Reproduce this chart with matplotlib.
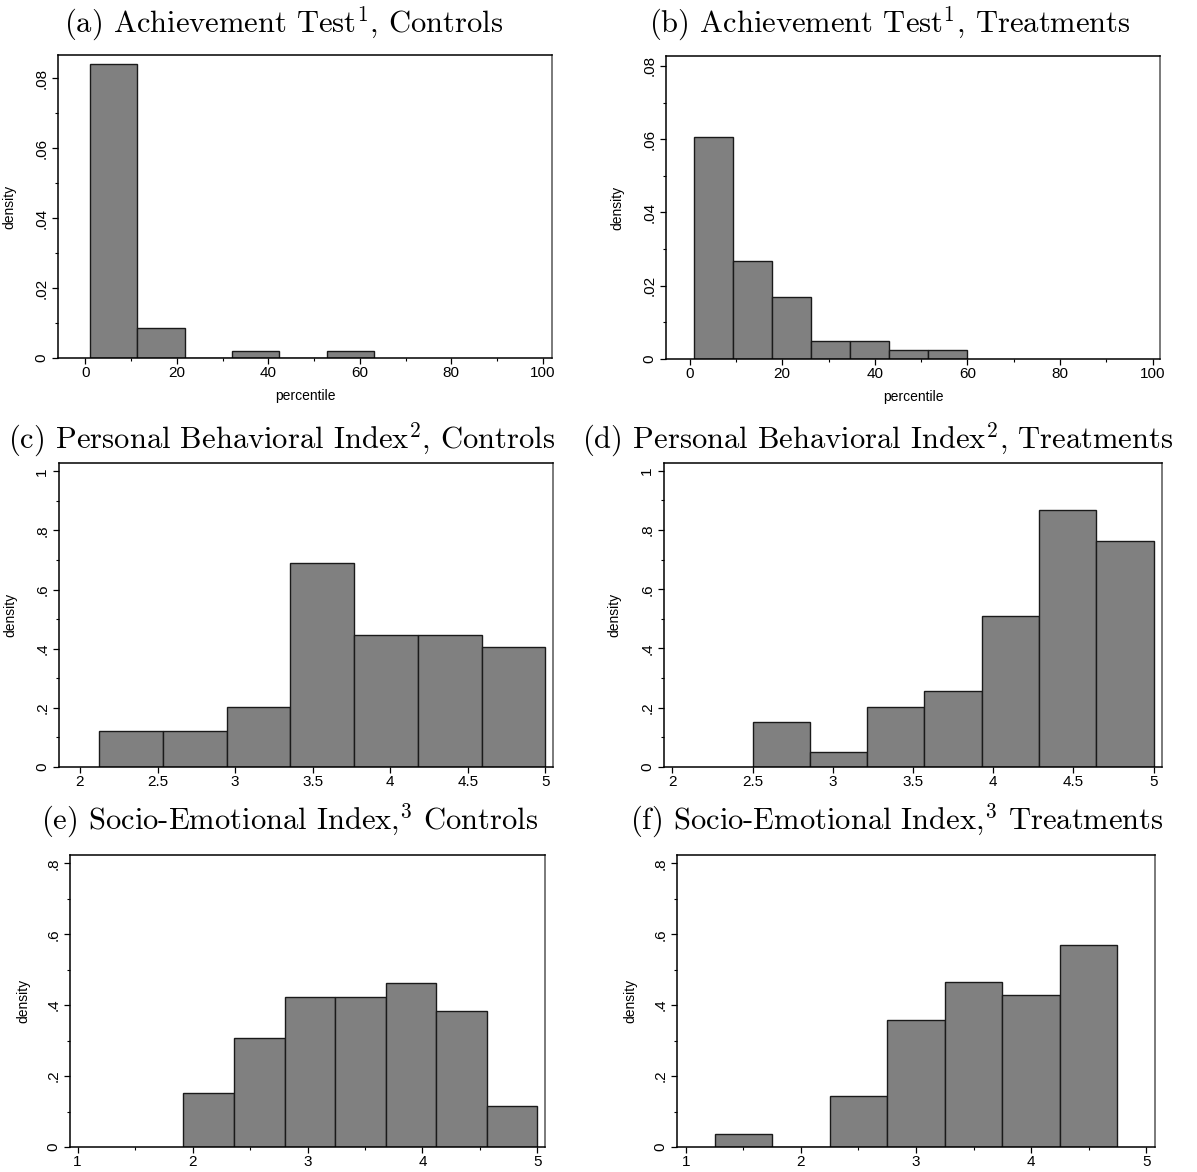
import numpy as np
import matplotlib
matplotlib.use("Agg")
import matplotlib.pyplot as plt

# ---------------- data ----------------
a_edges = [1.0, 11.35, 21.7, 32.05, 42.4, 52.75, 63.1]
a_density = [0.0842, 0.0085, 0.0, 0.0021, 0.0, 0.0021]

b_edges = [1.0, 9.43, 17.86, 26.29, 34.71, 43.14, 51.57, 60.0]
b_density = [0.0605, 0.0267, 0.0169, 0.0048, 0.0048, 0.0024, 0.0024]

c_edges = [2.125, 2.536, 2.946, 3.357, 3.768, 4.179, 4.589, 5.0]
c_density = [0.122, 0.122, 0.202, 0.689, 0.445, 0.445, 0.405]

d_edges = [2.5, 2.857, 3.214, 3.571, 3.929, 4.286, 4.643, 5.0]
d_density = [0.152, 0.050, 0.203, 0.255, 0.510, 0.866, 0.764]

e_edges = [1.92, 2.36, 2.80, 3.24, 3.68, 4.12, 4.56, 5.0]
e_density = [0.153, 0.307, 0.423, 0.423, 0.462, 0.384, 0.116]

f_edges = [1.25, 1.75, 2.25, 2.75, 3.25, 3.75, 4.25, 4.75]
f_density = [0.036, 0.0, 0.143, 0.357, 0.464, 0.428, 0.571]

titles = [
    r"(a) Achievement Test$^1$, Controls",
    r"(b) Achievement Test$^1$, Treatments",
    r"(c) Personal Behavioral Index$^2$, Controls",
    r"(d) Personal Behavioral Index$^2$, Treatments",
    r"(e) Socio-Emotional Index,$^3$ Controls",
    r"(f) Socio-Emotional Index,$^3$ Treatments",
]

xt_ab = [0, 20, 40, 60, 80, 100]
xtl_ab = ["0", "20", "40", "60", "80", "100"]
yt_ab = [0, 0.02, 0.04, 0.06, 0.08]
ytl_ab = ["0", ".02", ".04", ".06", ".08"]

xt_cd = [2, 2.5, 3, 3.5, 4, 4.5, 5]
xtl_cd = ["2", "2.5", "3", "3.5", "4", "4.5", "5"]
yt_cd = [0, 0.2, 0.4, 0.6, 0.8, 1.0]
ytl_cd = ["0", ".2", ".4", ".6", ".8", "1"]

xt_ef = [1, 2, 3, 4, 5]
xtl_ef = ["1", "2", "3", "4", "5"]
yt_ef = [0, 0.2, 0.4, 0.6, 0.8]
ytl_ef = ["0", ".2", ".4", ".6", ".8"]

# ---------------- layout ----------------
W, H = 1197, 1172
fig = plt.figure(figsize=(W / 100, H / 100), dpi=100)
plt.rcParams["mathtext.fontset"] = "cm"
plt.rcParams["font.family"] = ["Liberation Sans", "DejaVu Sans"]

def make_ax(l, r, t, b):
    return fig.add_axes([l / W, 1 - b / H, (r - l) / W, (b - t) / H])

panels = [
    dict(box=(58, 552, 55, 358), edges=a_edges, dens=a_density, xlim=(-6, 102), ylim=(0, 0.0867),
         xt=xt_ab, xtl=xtl_ab, yt=yt_ab, ytl=ytl_ab, xminor=[10, 30, 50, 70, 90],
         yminor=[0.01, 0.03, 0.05, 0.07], xlabel="percentile", ylab_x=16,
         title_x=284, title_y=32),
    dict(box=(666, 1160, 56, 359), edges=b_edges, dens=b_density, xlim=(-5.1, 101.6), ylim=(0, 0.0827),
         xt=xt_ab, xtl=xtl_ab, yt=yt_ab, ytl=ytl_ab, xminor=[10, 30, 50, 70, 90],
         yminor=[0.01, 0.03, 0.05, 0.07], xlabel="percentile", ylab_x=624,
         title_x=890, title_y=32),
    dict(box=(59, 553, 463, 767), edges=c_edges, dens=c_density, xlim=(1.865, 5.049), ylim=(0, 1.028),
         xt=xt_cd, xtl=xtl_cd, yt=yt_cd, ytl=ytl_cd, xminor=[],
         yminor=[0.1, 0.3, 0.5, 0.7, 0.9], xlabel=None, ylab_x=17,
         title_x=282, title_y=448),
    dict(box=(664, 1162, 463, 767), edges=d_edges, dens=d_density, xlim=(1.948, 5.052), ylim=(0, 1.026),
         xt=xt_cd, xtl=xtl_cd, yt=yt_cd, ytl=ytl_cd, xminor=[],
         yminor=[0.1, 0.3, 0.5, 0.7, 0.9], xlabel=None, ylab_x=621,
         title_x=878, title_y=448),
    dict(box=(70, 545, 855, 1147), edges=e_edges, dens=e_density, xlim=(0.934, 5.066), ylim=(0, 0.8235),
         xt=xt_ef, xtl=xtl_ef, yt=yt_ef, ytl=ytl_ef, xminor=[1.5, 2.5, 3.5, 4.5],
         yminor=[0.1, 0.3, 0.5, 0.7], xlabel=None, ylab_x=30,
         title_x=290, title_y=829),
    dict(box=(677, 1155, 855, 1147), edges=f_edges, dens=f_density, xlim=(0.924, 5.076), ylim=(0, 0.8235),
         xt=xt_ef, xtl=xtl_ef, yt=yt_ef, ytl=ytl_ef, xminor=[1.5, 2.5, 3.5, 4.5],
         yminor=[0.1, 0.3, 0.5, 0.7], xlabel=None, ylab_x=637,
         title_x=897, title_y=829),
]

for p, title in zip(panels, titles):
    l, r, t, b = p["box"]
    ax = make_ax(l, r, t, b)
    edges = np.array(p["edges"])
    ax.bar(edges[:-1], p["dens"], width=np.diff(edges), align="edge",
           color="#808080", edgecolor="#1a1a1a", linewidth=1.0, zorder=2)
    ax.set_xlim(*p["xlim"])
    ax.set_ylim(*p["ylim"])
    ax.set_xticks(p["xt"])
    ax.set_xticklabels(p["xtl"], fontsize=11)
    ax.set_yticks(p["yt"])
    ax.set_yticklabels(p["ytl"], fontsize=11, rotation=90, va="center")
    ax.set_xticks(p["xminor"], minor=True)
    ax.set_yticks(p["yminor"], minor=True)
    ax.tick_params(axis="both", which="major", length=4, width=0.9, color="black")
    ax.tick_params(axis="both", which="minor", length=2.5, width=0.8, color="black")
    ax.tick_params(axis="x", which="major", pad=2)
    ax.tick_params(axis="y", which="major", pad=3)
    for side in ["left", "bottom", "top"]:
        ax.spines[side].set_color("black")
        ax.spines[side].set_linewidth(1.1)
        ax.spines[side].set_zorder(3)
    ax.spines["right"].set_color("#707070")
    ax.spines["right"].set_linewidth(1.3)
    ax.set_ylabel("density", fontsize=10)
    ax.yaxis.set_label_coords((p["ylab_x"] - l) / (r - l), 0.5)
    if p["xlabel"]:
        ax.set_xlabel(p["xlabel"], fontsize=10, labelpad=6)
    fig.text(p["title_x"] / W, 1 - p["title_y"] / H, title, ha="center", va="baseline",
             fontsize=22, family="cmr10")

fig.savefig("out.png", dpi=100)
